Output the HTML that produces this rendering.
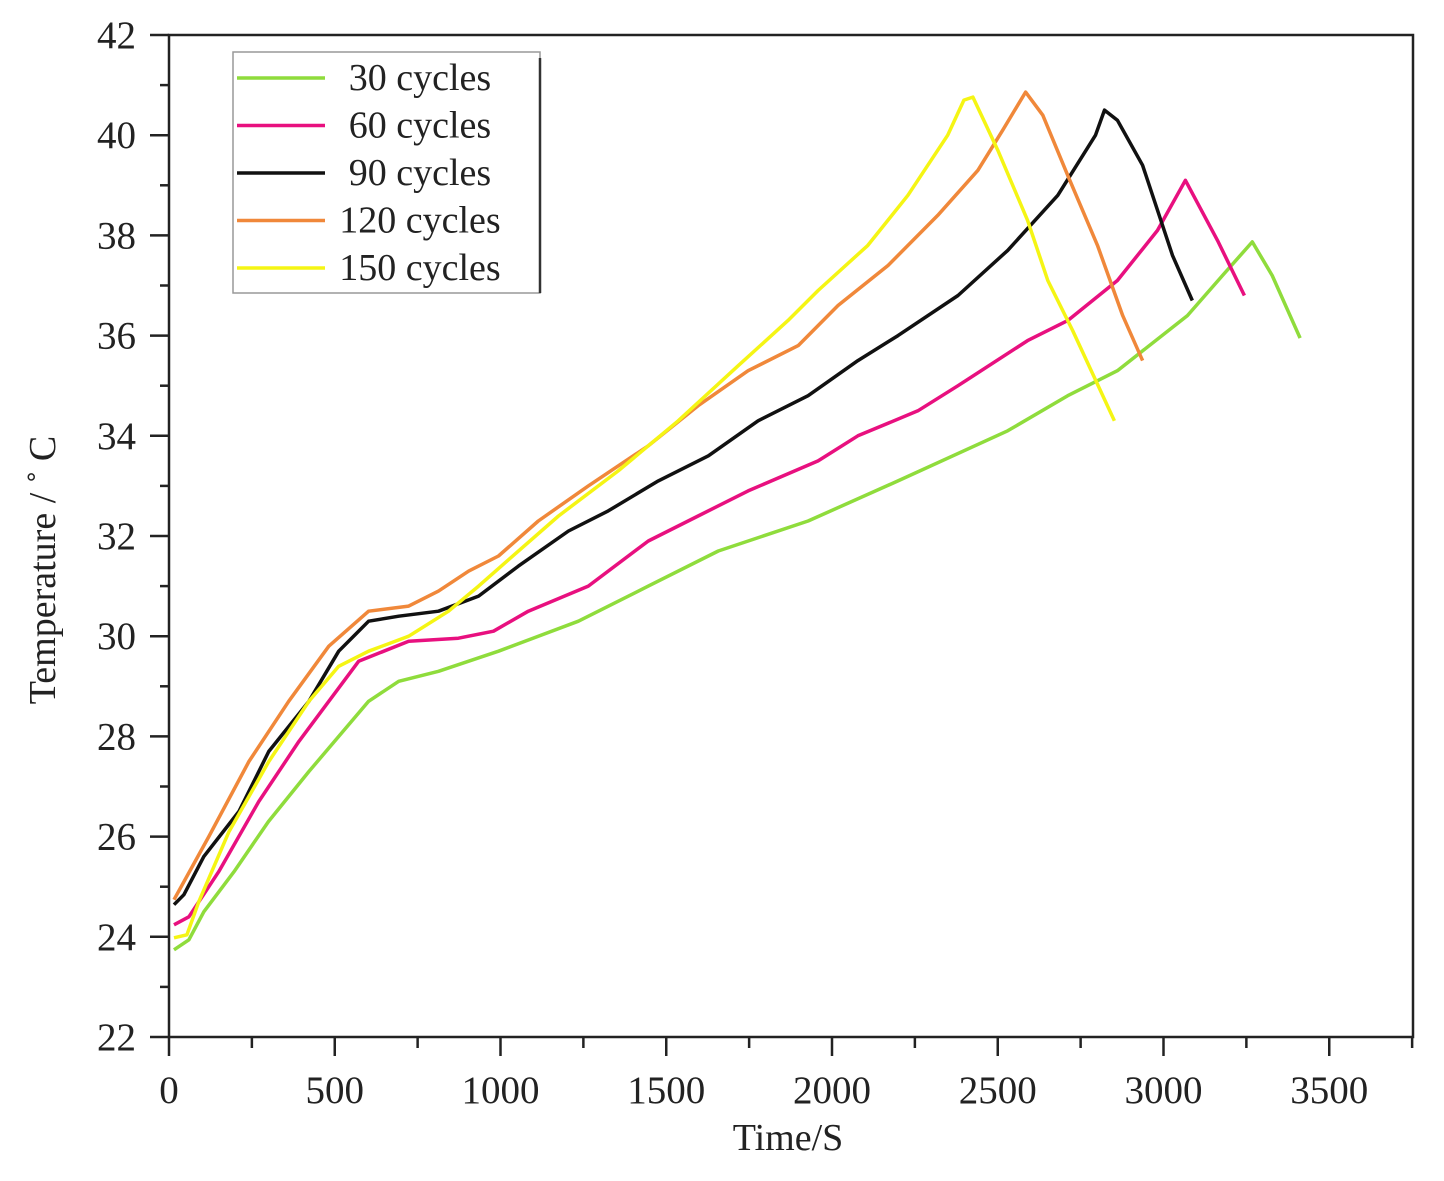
<!DOCTYPE html>
<html><head><meta charset="utf-8"><style>
html,body{margin:0;padding:0;background:#fff;}
svg{display:block;font-family:"Liberation Serif",serif;}
</style></head><body>
<svg id="chart" width="1444" height="1181" viewBox="0 0 1444 1181" xmlns="http://www.w3.org/2000/svg">
<g id="grid"></g>
<g id="series"></g>
<g id="axes"></g>
<g id="legend"></g>
</svg>
<script>
const seriesNames = ["30 cycles","60 cycles","90 cycles","120 cycles","150 cycles"];
const seriesColors = ["#8fdc3c","#e8107f","#111111","#f0883a","#f5f514"];
const s30 = [[15,23.74],[60,23.94],[105,24.5],[196,25.3],[300,26.3],[422,27.3],[602,28.7],[693,29.1],[813,29.3],[994,29.7],[1235,30.3],[1446,31.0],[1657,31.7],[1928,32.3],[2199,33.1],[2530,34.1],[2711,34.8],[2861,35.3],[3072,36.4],[3178,37.2],[3268,37.87],[3328,37.2],[3412,35.95]];
const s60 = [[15,24.24],[60,24.4],[150,25.3],[271,26.7],[392,27.9],[572,29.5],[723,29.9],[873,29.96],[979,30.1],[1084,30.5],[1265,31.0],[1446,31.9],[1596,32.4],[1747,32.9],[1958,33.5],[2078,34.0],[2259,34.5],[2380,35.0],[2590,35.9],[2711,36.3],[2861,37.1],[2982,38.1],[3066,39.1],[3163,37.9],[3244,36.8]];
const s90 = [[15,24.64],[45,24.84],[105,25.6],[211,26.5],[301,27.7],[422,28.7],[512,29.7],[602,30.3],[693,30.4],[813,30.5],[934,30.8],[1054,31.4],[1205,32.1],[1325,32.5],[1476,33.1],[1627,33.6],[1777,34.3],[1928,34.8],[2078,35.5],[2199,36.0],[2380,36.8],[2530,37.7],[2681,38.8],[2795,40.0],[2822,40.5],[2861,40.3],[2937,39.4],[3027,37.6],[3087,36.7]];
const s120 = [[15,24.74],[120,26.0],[241,27.5],[361,28.7],[482,29.8],[602,30.5],[723,30.6],[813,30.9],[904,31.3],[994,31.6],[1114,32.3],[1265,33.0],[1446,33.8],[1596,34.6],[1747,35.3],[1898,35.8],[2018,36.6],[2169,37.4],[2319,38.4],[2440,39.3],[2515,40.1],[2584,40.86],[2636,40.4],[2711,39.2],[2801,37.8],[2877,36.4],[2937,35.5]];
const s150 = [[15,23.98],[54,24.04],[90,24.7],[181,26.1],[301,27.5],[422,28.7],[512,29.4],[602,29.7],[723,30.0],[843,30.5],[934,31.0],[1054,31.7],[1175,32.4],[1355,33.3],[1536,34.3],[1717,35.4],[1867,36.3],[1958,36.9],[2108,37.8],[2229,38.8],[2349,40.0],[2398,40.7],[2425,40.76],[2500,39.7],[2590,38.3],[2651,37.1],[2726,36.1],[2852,34.3]];
const allSeries = [s30,s60,s90,s120,s150];
const xTicks = [0,500,1000,1500,2000,2500,3000,3500];
const yTicks = [22,24,26,28,30,32,34,36,38,40,42];

const NS="http://www.w3.org/2000/svg";
const L=169,R=1413,T=35,B=1037;
function xs(v){return L+(v/1000)*331.5;}
function ys(v){return B-(v-22)/20*(B-T);}
function mk(tag,attrs,parent){const e=document.createElementNS(NS,tag);for(const k in attrs)e.setAttribute(k,attrs[k]);parent.appendChild(e);return e;}
const axes=document.getElementById('axes'),ser=document.getElementById('series'),leg=document.getElementById('legend');

allSeries.forEach((s,i)=>{
  const p=mk('polyline',{points:s.map(d=>xs(d[0]).toFixed(1)+','+ys(d[1]).toFixed(1)).join(' '),fill:'none',stroke:seriesColors[i],'stroke-width':3.5,'stroke-linejoin':'round'},ser);
  
  
});

const frame=mk('rect',{x:L,y:T,width:R-L,height:B-T,fill:'none',stroke:'#222','stroke-width':2.5},axes);



yTicks.forEach((v,i)=>{
  mk('line',{x1:150,y1:ys(v),x2:L,y2:ys(v),stroke:'#222','stroke-width':2.5},axes);
  if(i<yTicks.length-1) mk('line',{x1:160,y1:ys(v+1),x2:L,y2:ys(v+1),stroke:'#222','stroke-width':2.5},axes);
  const t=mk('text',{x:136,y:ys(v)+13,'text-anchor':'end','font-size':39,fill:'#222'},axes);
  t.textContent=v;
  
  
});
xTicks.forEach(v=>{
  mk('line',{x1:xs(v),y1:B,x2:xs(v),y2:1056,stroke:'#222','stroke-width':2.5},axes);
  if(xs(v+250)<R) mk('line',{x1:xs(v+250),y1:B,x2:xs(v+250),y2:1048,stroke:'#222','stroke-width':2.5},axes);
  const t=mk('text',{x:xs(v),y:1103,'text-anchor':'middle','font-size':39,fill:'#222'},axes);
  t.textContent=v;
  
  
});
const xt=mk('text',{x:788,y:1150,'text-anchor':'middle','font-size':38,fill:'#222'},axes);
xt.textContent='Time/S';


const yt=mk('text',{x:0,y:0,'text-anchor':'middle','font-size':38,fill:'#222',transform:'translate(55,570) rotate(-90)'},axes);
yt.textContent='Temperature / \u02DA C';



const box=mk('rect',{x:233,y:52,width:307,height:241,fill:'#fff',stroke:'#999','stroke-width':1.5},leg);


mk('line',{x1:540,y1:58,x2:540,y2:293,stroke:'#333','stroke-width':2.5},leg);
seriesNames.forEach((n,i)=>{
  const y=78+i*47.5;
  const g=mk('g',{},leg);
  
  
  mk('line',{x1:237,y1:y,x2:325,y2:y,stroke:seriesColors[i],'stroke-width':3.5},g);
  const t=mk('text',{x:420,y:y+12,'text-anchor':'middle','font-size':38,fill:'#222'},g);
  t.textContent=n;
});
</script>
</body></html>
